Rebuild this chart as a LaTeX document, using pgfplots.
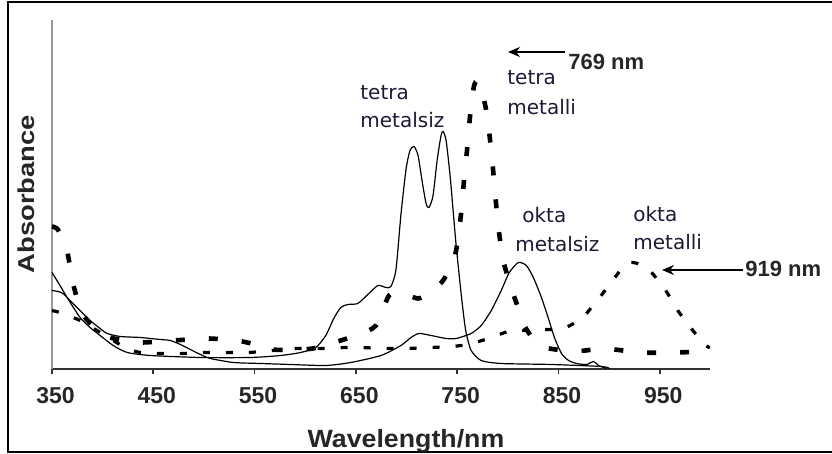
\documentclass[border=0pt]{standalone}
\usepackage{fontspec}
\setmainfont{Liberation Sans}
\newfontfamily\annfont{DejaVu Sans}
\usepackage{pgfplots}
\pgfplotsset{compat=1.18}
\usetikzlibrary{arrows.meta}
\usepackage{graphicx}
\definecolor{annot}{HTML}{1A1A38}
\definecolor{yline}{HTML}{999999}
\definecolor{xline}{HTML}{333333}

\begin{document}
\begin{tikzpicture}
\path[use as bounding box] (-26pt,-42.25pt) rectangle (390pt,184.75pt);
\draw[line width=1pt] (391pt,183.75pt) -- (-22pt,183.75pt) -- (-22pt,-41.25pt) -- (391pt,-41.25pt);
\begin{axis}[
  at={(0,0)}, anchor=south west,
  scale only axis, width=329.2pt, height=174.5pt,
  xmin=350, xmax=1000, ymin=0, ymax=3.49,
  axis lines=left,
  axis line style={-},
  x axis line style={draw=xline, line width=1pt},
  y axis line style={draw=yline, line width=1.2pt},
  xtick={350,450,550,650,750,850,950},
  ytick=\empty,
  tick align=outside,
  major tick length=2.5pt,
  x tick style={draw=xline, line width=0.8pt},
  xticklabel style={font=\fontsize{11.5}{13}\selectfont\bfseries, text=black!85, anchor=base, yshift=-14.5pt, xshift=1.75pt},
  /pgf/number format/assume math mode=true,
  clip=false,
]
% tetra metalsiz
\addplot[black, line width=0.6pt, smooth, tension=0.4] coordinates {
(350,0.97) (357.9,0.84) (364.9,0.72) (377.7,0.52) (387.6,0.42) (397.5,0.34)
(410.4,0.24) (424.3,0.17) (447,0.14) (496.5,0.12) (546,0.12) (575.7,0.14)
(595.5,0.17) (610.4,0.22) (620.3,0.34) (628.2,0.51) (635.1,0.62) (642.1,0.65)
(651.9,0.66) (661.8,0.75) (671.8,0.84) (679.7,0.82) (684.6,0.83) (689.6,1.00)
(694.5,1.55) (699.5,2.00) (703.4,2.19) (707.4,2.23) (711.4,2.14) (715.3,1.89)
(719.3,1.66) (722.2,1.62) (726.2,1.74) (730.2,2.09) (734.1,2.34) (736.1,2.38)
(739.1,2.29) (743.0,1.94) (746.0,1.59) (749.0,1.24) (753.9,0.76) (756.9,0.50)
(759.0,0.36) (763.8,0.19) (773.7,0.09) (793.5,0.06) (843,0.05) (892.5,0.03) (900.4,0.01)
};
% okta metalsiz
\addplot[black, line width=0.6pt, smooth, tension=0.4] coordinates {
(350,0.79) (355.9,0.78) (360.9,0.76) (367.8,0.69) (377.7,0.59) (387.6,0.49)
(397.5,0.41) (404.5,0.36) (417.3,0.33) (437.1,0.32) (456.9,0.30) (466.8,0.29)
(476.7,0.25) (486.6,0.20) (496.5,0.15) (506.4,0.11) (529.2,0.07) (555.9,0.06)
(585.6,0.05) (620.3,0.04) (645.0,0.07) (674.8,0.14) (694.5,0.24) (704.4,0.32)
(712.4,0.36) (724.3,0.34) (739.1,0.31) (749.0,0.31) (763.8,0.36) (773.7,0.44)
(783.7,0.59) (793.5,0.79) (801.5,0.97) (810.4,1.07) (818.3,1.04) (825.2,0.92)
(833.2,0.72) (840.1,0.51) (846.0,0.32) (853.0,0.16) (860.0,0.09) (867.8,0.06)
(877.7,0.05) (884.7,0.08) (889.6,0.04) (897.5,0.01)
};
% tetra metalli
\addplot[black, line width=2.3pt, dash pattern=on 4.5pt off 12pt, smooth, tension=0.4] coordinates {
(350,1.43) (355,1.41) (360,1.32) (364.9,1.19) (370.8,0.86) (377,0.64) (382.7,0.52)
(390,0.44) (397.5,0.39) (407.4,0.32) (422.3,0.29) (439.1,0.27) (469.8,0.29)
(504.5,0.31) (538.1,0.28) (568.8,0.20) (588.6,0.20) (607.4,0.21) (635.1,0.29)
(654.9,0.36) (669.8,0.44) (682.7,0.74) (694.5,0.77) (711.4,0.71) (724.3,0.77)
(736.1,0.89) (744.1,1.04) (749.0,1.19) (753.9,1.56) (756.9,1.91) (759.9,2.21)
(762.8,2.54) (766.5,2.83) (770,2.89) (774,2.80) (779.6,2.54) (784.6,2.09)
(788.1,1.69) (791.1,1.39) (795.5,1.09) (803.5,0.81) (809.4,0.64) (816.3,0.44)
(826.2,0.29) (836.1,0.22) (865.8,0.18) (895.5,0.21) (929.2,0.17) (963.8,0.17) (998.5,0.18)
};
% okta metalli
\addplot[black, line width=1.6pt, dash pattern=on 3.5pt off 8pt, smooth, tension=0.4] coordinates {
(350,0.59) (357.9,0.57) (365.9,0.54) (377.7,0.49) (389.6,0.42) (402.5,0.34)
(415.3,0.26) (427.2,0.20) (437.1,0.17) (456.9,0.16) (478.7,0.16) (501.5,0.17)
(523.3,0.17) (544.1,0.17) (567.8,0.19) (588.6,0.21) (615.3,0.21) (640.1,0.22)
(654.9,0.22) (677.7,0.21) (699.5,0.21) (724.3,0.22) (744.1,0.23) (760.9,0.25)
(780.7,0.31) (803.5,0.39) (818.3,0.39) (836.1,0.40) (854.9,0.41) (873.8,0.52)
(890.6,0.72) (903.5,0.89) (913.4,1.02) (920.3,1.07) (928.2,1.06) (940.1,0.99)
(955.9,0.79) (967.8,0.59) (982.7,0.39) (995.5,0.24) (999.5,0.22)
};
\end{axis}
% axis titles
\node[font=\fontsize{12.5}{15}\selectfont\bfseries, text=black!85, anchor=base, inner sep=0] at (177pt,-39.25pt) {\scalebox{1.07}[1]{Wavelength/nm}};
\node[font=\fontsize{11.5}{14}\selectfont\bfseries, text=black!85, rotate=90, anchor=center, inner sep=0] at (-13pt,87.75pt) {\scalebox{1.19}[1]{Absorbance}};
% annotations
\begin{scope}[every node/.style={font=\annfont\fontsize{10}{12}\selectfont, text=annot, anchor=base west, inner sep=0}]
\node at (154pt,134.75pt) {tetra};
\node at (154pt,120.75pt) {metalsiz};
\node at (227.5pt,142.25pt) {tetra};
\node at (227.5pt,127.25pt) {metalli};
\node at (235pt,73.25pt) {okta};
\node at (231.5pt,58.75pt) {metalsiz};
\node at (290.5pt,73.75pt) {okta};
\node at (290.5pt,59.75pt) {metalli};
\end{scope}
% wavelength arrows
\draw[line width=1pt, -{Stealth[length=6pt,width=5pt]}] (256.5pt,158.75pt) -- (228pt,158.75pt);
\node[font=\fontsize{11}{13}\selectfont\bfseries, text=black!85, anchor=base west, inner sep=0] at (258pt,149.75pt) {769 nm};
\draw[line width=1pt, -{Stealth[length=6pt,width=5pt]}] (345.5pt,49.75pt) -- (305pt,49.75pt);
\node[font=\fontsize{11}{13}\selectfont\bfseries, text=black!85, anchor=base west, inner sep=0] at (346.5pt,46.25pt) {919 nm};
\end{tikzpicture}
\end{document}
